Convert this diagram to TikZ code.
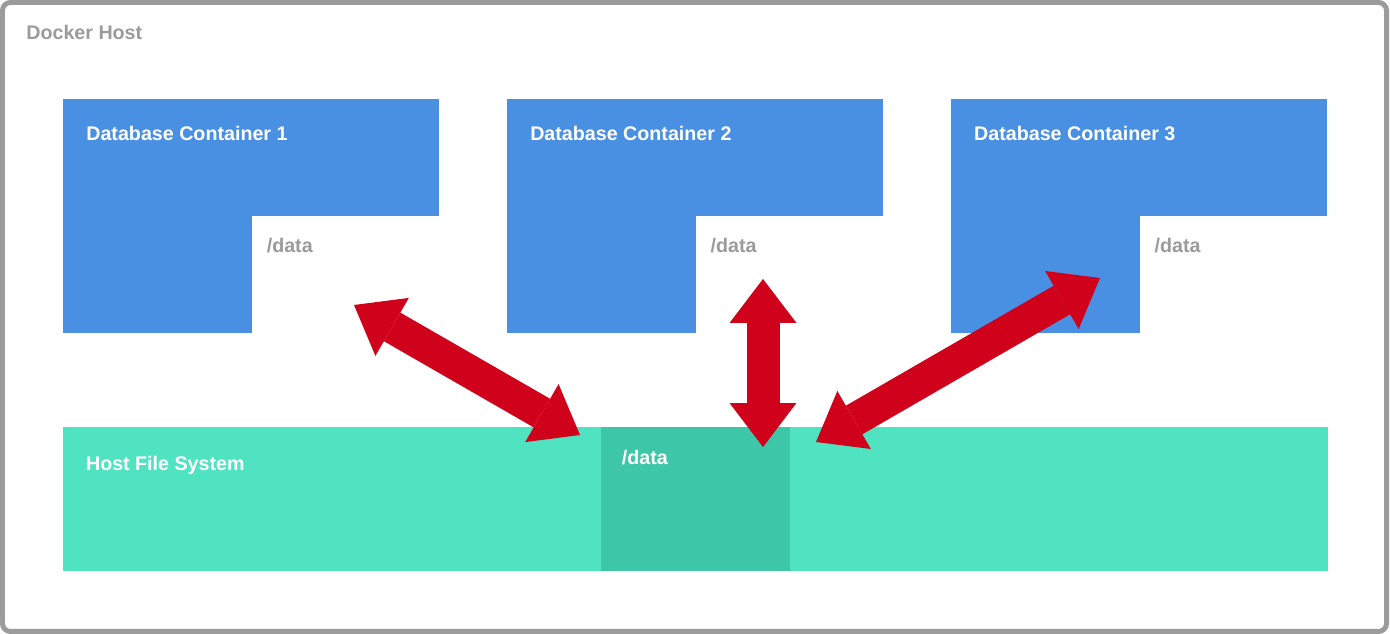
\documentclass[tikz,border=0pt]{standalone}
\usepackage{fontspec}
\setmainfont{Liberation Sans}
\usepackage{xcolor}
\usetikzlibrary{positioning,arrows.meta}

\definecolor{hostgray}{HTML}{9B9B9B}
\definecolor{dbblue}{HTML}{4A90E2}
\definecolor{fsgreen}{HTML}{50E3C2}
\definecolor{fsdark}{HTML}{3DC7A8}
\definecolor{linkred}{HTML}{D0021B}

\tikzset{
  boxtitle/.style={font=\bfseries\fontsize{11.2}{13}\selectfont, inner sep=0pt, anchor=base west},
  container/.style={fill=dbblue, inner sep=0pt, outer sep=0pt, minimum width=7.52cm, minimum height=4.68cm},
  notch/.style={fill=white, inner sep=0pt, outer sep=0pt, minimum width=3.74cm, minimum height=2.34cm},
  hostfs/.style={fill=fsgreen, inner sep=0pt, outer sep=0pt, minimum width=25.3cm, minimum height=2.88cm},
  volume/.style={fill=fsdark, inner sep=0pt, outer sep=0pt, minimum width=3.78cm, minimum height=2.88cm},
  link/.style={draw=linkred, line width=0.66cm,
    {Triangle[length=0.88cm, width=1.34cm, line width=0pt]}-{Triangle[length=0.88cm, width=1.34cm, line width=0pt]}}
}

\begin{document}
\begin{tikzpicture}[x=0.02cm, y=-0.02cm]
    \useasboundingbox (0,0) rectangle (1390,634);
    \draw[hostgray, line width=0.1cm, rounded corners=0.16cm] (2.5,2.5) rectangle (1386.5,631.5);
    \node (host) [boxtitle, text=hostgray] at (26,40) {Docker Host};

    % containers
    \node (c1) [container, anchor=north west] at (63,99) {};
    \node (c2) [container, right=1.36cm of c1] {};
    \node (c3) [container, right=1.36cm of c2] {};
    \node (d1) [notch, anchor=south east] at (c1.south east) {};
    \node (d2) [notch, anchor=south east] at (c2.south east) {};
    \node (d3) [notch, anchor=south east] at (c3.south east) {};

    \node (t1) [boxtitle, text=white, xshift=0.46cm, yshift=-0.83cm] at (c1.north west) {Database Container 1};
    \node (t2) [boxtitle, text=white, xshift=0.46cm, yshift=-0.83cm] at (c2.north west) {Database Container 2};
    \node (t3) [boxtitle, text=white, xshift=0.46cm, yshift=-0.83cm] at (c3.north west) {Database Container 3};
    \node (v1) [boxtitle, text=hostgray, xshift=0.29cm, yshift=-0.74cm] at (d1.north west) {/data};
    \node (v2) [boxtitle, text=hostgray, xshift=0.29cm, yshift=-0.74cm] at (d2.north west) {/data};
    \node (v3) [boxtitle, text=hostgray, xshift=0.29cm, yshift=-0.74cm] at (d3.north west) {/data};

    % host file system
    \node (fs) [hostfs, below right=1.88cm and 0cm of c1.south west] {};
    \node (fsd) [volume, anchor=north west, xshift=10.76cm] at (fs.north west) {};
    \node (fst) [boxtitle, text=white, xshift=0.454cm, yshift=-0.88cm] at (fs.north west) {Host File System};
    \node (fsv) [boxtitle, text=white, xshift=0.414cm, yshift=-0.746cm] at (fsd.north west) {/data};

    % mounts
    \coordinate (m1) at (354,305);
    \coordinate (n1) at (580,435);
    \coordinate (m2) at (763,279);
    \coordinate (n2) at (763,447);
    \coordinate (m3) at (1100,278);
    \coordinate (n3) at (816,442);
    \draw[link] (m1) -- (n1);
    \draw[link] (m2) -- (n2);
    \draw[link] (m3) -- (n3);
\end{tikzpicture}
\end{document}
